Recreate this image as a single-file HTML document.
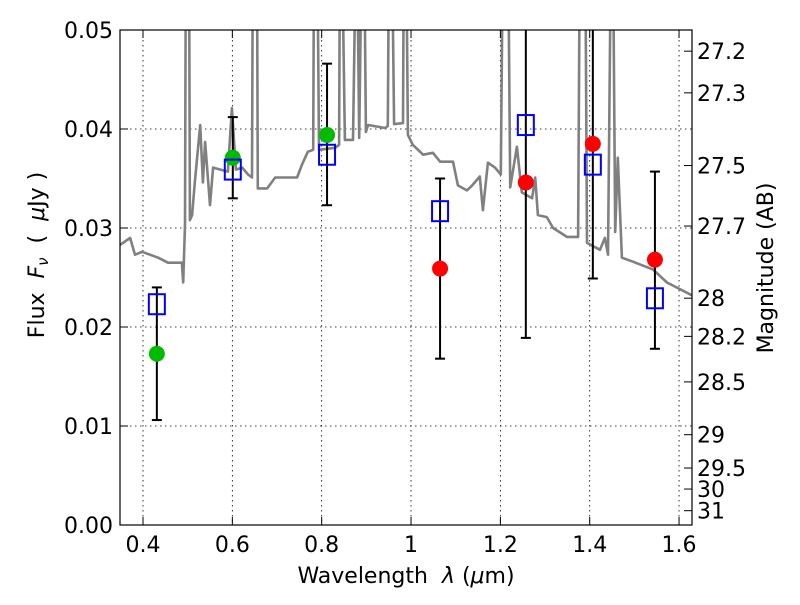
<!DOCTYPE html>
<html><head><meta charset="utf-8"><style>
body{margin:0;background:#fff;}
svg text{font-family:"DejaVu Sans","Liberation Sans",sans-serif;}
</style></head><body>
<svg id="c" width="800" height="600" viewBox="0 0 800 600" xmlns="http://www.w3.org/2000/svg">
<defs><clipPath id="clip"><rect x="120" y="30" width="572" height="495"/></clipPath></defs>
<rect x="0" y="0" width="800" height="600" fill="#fff"/>
<g id="grid"></g>
<g id="spec" clip-path="url(#clip)"></g>
<g id="marks" clip-path="url(#clip)"></g>
<rect x="120" y="30" width="572" height="495" fill="none" stroke="#000" stroke-width="1.2"/>
<g id="axes"></g>
<text x="406" y="583" font-size="22" text-anchor="middle">Wavelength&#160;&#160;<tspan font-style="italic">λ</tspan>&#160;(<tspan font-style="italic">μ</tspan>m)</text>
<text transform="translate(44,255) rotate(-90)" font-size="22" text-anchor="middle">Flux&#160;&#160;<tspan font-style="italic">F</tspan><tspan font-style="italic" font-size="15" dy="4">ν</tspan><tspan dy="-4">&#160;&#160;(&#160;&#160;</tspan><tspan font-style="italic">μ</tspan>Jy&#160;)</text>
<text transform="translate(773,268) rotate(-90)" font-size="22" text-anchor="middle">Magnitude (AB)</text>
</svg>
<script>
const specLam=[.349,.371,.382,.398,.434,.456,.487,.490,.494,.496,.503,.505,.510,.516,.528,.534,.539,.550,.557,.590,.599,.608,.622,.635,.644,.646,.655,.657,.678,.696,.745,.756,.769,.781,.783,.790,.794,.830,.839,.841,.845,.852,.870,.877,.879,.884,.890,.895,.899,.904,.942,.948,.951,.957,.962,.982,.984,.989,.993,1.004,1.027,1.049,1.065,1.094,1.105,1.125,1.137,1.154,1.161,1.172,1.188,1.201,1.206,1.217,1.222,1.237,1.248,1.271,1.278,1.284,1.304,1.318,1.349,1.374,1.378,1.390,1.394,1.423,1.434,1.441,1.448,1.452,1.457,1.463,1.472,1.497,1.542,1.573,1.629];
const specFlux=[.0283,.0290,.0273,.0276,.0270,.0265,.0265,.0245,.0303,.06,.06,.0308,.0313,.0346,.0404,.0346,.0387,.0323,.0361,.0357,.0421,.0359,.0361,.0354,.0351,.06,.06,.0340,.0340,.0351,.0351,.0364,.0377,.0379,.06,.06,.0379,.0381,.0384,.06,.06,.0389,.0389,.06,.06,.0391,.06,.06,.0397,.0404,.0401,.0403,.06,.06,.0405,.0406,.06,.06,.0394,.0384,.0374,.0376,.0367,.0367,.0343,.0338,.0343,.0352,.0318,.0366,.0361,.0354,.06,.06,.0341,.0382,.0336,.0330,.0351,.0313,.0311,.0300,.0291,.0291,.06,.06,.0285,.0278,.0290,.0273,.06,.06,.0296,.0371,.0270,.0266,.0258,.0245,.0232];
const obsLam=[.431,.601,.812,1.065,1.257,1.407,1.546];
const obsFlux=[.0173,.0371,.0394,.0259,.0346,.0385,.0268];
const errHi=[.0240,.0412,.0466,.0350,.052,.052,.0357];
const errLo=[.0106,.0330,.0323,.0168,.0189,.0249,.0178];
const obsColor=['#00bb00','#00bb00','#00bb00','#ff0000','#ff0000','#ff0000','#ff0000'];
const modelFlux=[.0223,.0359,.0374,.0317,.0404,.0364,.0229];
const xTicks=[0.4,0.6,0.8,1.0,1.2,1.4,1.6];
const xTickLabels=['0.4','0.6','0.8','1','1.2','1.4','1.6'];
const yTicks=[0,0.01,0.02,0.03,0.04,0.05];
const yTickLabels=['0.00','0.01','0.02','0.03','0.04','0.05'];
const magTicks=[27.2,27.3,27.5,27.7,28,28.2,28.5,29,29.5,30,31];
const magLabels=['27.2','27.3','27.5','27.7','28','28.2','28.5','29','29.5','30','31'];

const NS='http://www.w3.org/2000/svg';
function X(l){return 120+(l-0.3485)/(1.629-0.3485)*572;}
function Y(f){return 525-f/0.05*495;}
function mk(tag,attrs,parent){const e=document.createElementNS(NS,tag);for(const k in attrs)e.setAttribute(k,attrs[k]);parent.appendChild(e);return e;}
const grid=document.getElementById('grid'),spec=document.getElementById('spec'),marks=document.getElementById('marks'),axes=document.getElementById('axes');

xTicks.forEach((t,i)=>{
  const x=X(t);
  const g=mk('line',{x1:x,x2:x,y1:30,y2:525,stroke:'#000','stroke-width':0.8,'stroke-dasharray':'1.5,3.5'},grid);
  
  
  mk('line',{x1:x,x2:x,y1:525,y2:517,stroke:'#000','stroke-width':1},axes);
  mk('line',{x1:x,x2:x,y1:30,y2:38,stroke:'#000','stroke-width':1},axes);
  const tx=mk('text',{x:x,y:552,'font-size':22,'text-anchor':'middle'},axes);
  tx.textContent=xTickLabels[i];
  
  
});
yTicks.forEach((t,i)=>{
  const y=Y(t);
  const g=mk('line',{x1:120,x2:692,y1:y,y2:y,stroke:'#000','stroke-width':0.8,'stroke-dasharray':'1.5,3.5'},grid);
  
  
  mk('line',{x1:120,x2:128,y1:y,y2:y,stroke:'#000','stroke-width':1},axes);
  const tx=mk('text',{x:113,y:y+8,'font-size':22,'text-anchor':'end'},axes);
  tx.textContent=yTickLabels[i];
  
  
});
magTicks.forEach((m,i)=>{
  const y=Y(Math.pow(10,(23.9-m)/2.5));
  mk('line',{x1:684,x2:692,y1:y,y2:y,stroke:'#000','stroke-width':1},axes);
  const tx=mk('text',{x:697,y:y+8,'font-size':22},axes);
  tx.textContent=magLabels[i];
  
  
});

const pts=specLam.map((l,i)=>X(l).toFixed(1)+','+Y(specFlux[i]).toFixed(1)).join(' ');
const pl=mk('polyline',{points:pts,fill:'none',stroke:'#808080','stroke-width':2.6,'stroke-linejoin':'round'},spec);



obsLam.forEach((l,i)=>{
  const x=X(l);
  const e=mk('line',{x1:x,x2:x,y1:Y(errHi[i]),y2:Y(errLo[i]),stroke:'#000','stroke-width':2},marks);
  
  
  mk('line',{x1:x-5,x2:x+5,y1:Y(errHi[i]),y2:Y(errHi[i]),stroke:'#000','stroke-width':2},marks);
  mk('line',{x1:x-5,x2:x+5,y1:Y(errLo[i]),y2:Y(errLo[i]),stroke:'#000','stroke-width':2},marks);
});
obsLam.forEach((l,i)=>{
  const c=mk('circle',{cx:X(l),cy:Y(obsFlux[i]),r:8,fill:obsColor[i]},marks);
  
  
});
obsLam.forEach((l,i)=>{
  const s=mk('rect',{x:X(l)-8,y:Y(modelFlux[i])-10,width:16,height:20,fill:'none',stroke:'#0000ff','stroke-width':2},marks);
  
  
});
</script>
</body></html>
